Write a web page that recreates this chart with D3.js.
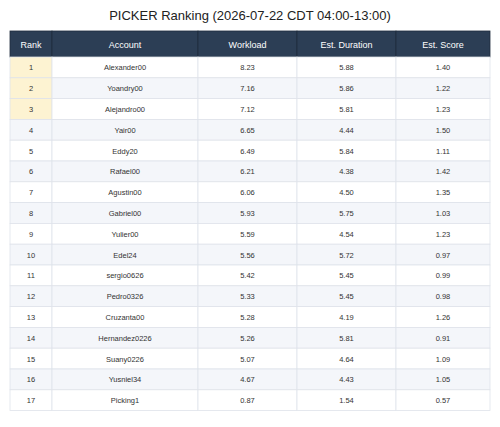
<!DOCTYPE html>
<html><head><meta charset="utf-8">
<script src="https://cdn.jsdelivr.net/npm/d3@7"></script>
<style>body{margin:0;background:#fff;font-family:"Helvetica Neue",Arial,"Liberation Sans",sans-serif;}</style>
</head><body>
<svg width="500" height="427"></svg>
<script>
const columns = ['Rank', 'Account', 'Workload', 'Est. Duration', 'Est. Score'];
const accounts = ['Alexander00','Yoandry00','Alejandro00','Yair00','Eddy20','Rafael00','Agustin00','Gabriel00','Yulier00','Edel24','sergio0626','Pedro0326','Cruzanta00','Hernandez0226','Suany0226','Yusniel34','Picking1'];
const workload = [8.23,7.16,7.12,6.65,6.49,6.21,6.06,5.93,5.59,5.56,5.42,5.33,5.28,5.26,5.07,4.67,0.87];
const duration = [5.88,5.86,5.81,4.44,5.84,4.38,4.50,5.75,4.54,5.72,5.45,5.45,4.19,5.81,4.64,4.43,1.54];
const score = [1.40,1.22,1.23,1.50,1.11,1.42,1.35,1.03,1.23,0.97,0.99,0.98,1.26,0.91,1.09,1.05,0.57];

const rows = accounts.map((a, i) => [String(i + 1), a, workload[i].toFixed(2), duration[i].toFixed(2), score[i].toFixed(2)]);

const svg = d3.select('svg');
const edges = [10, 52, 198, 297, 396, 490];
const tableTop = 31, headH = 26, rowH = 20.8;

svg.append('text').attr('x', 250).attr('y', 20).attr('text-anchor', 'middle')
  .attr('font-size', 13).attr('fill', '#222').text('PICKER Ranking  (2026-07-22 CDT 04:00-13:00)');

// header
columns.forEach((c, j) => {
  svg.append('rect').attr('x', edges[j]).attr('y', tableTop).attr('width', edges[j + 1] - edges[j]).attr('height', headH)
    .attr('fill', '#2c3e55').attr('stroke', '#1e2b3c').attr('stroke-width', 0.8);
  svg.append('text').attr('x', (edges[j] + edges[j + 1]) / 2).attr('y', tableTop + headH / 2 + 3.5)
    .attr('text-anchor', 'middle').attr('font-size', 9).attr('fill', '#fff').text(c);
});

// body
rows.forEach((r, i) => {
  const y = tableTop + headH + i * rowH;
  r.forEach((v, j) => {
    let fill = i % 2 === 1 ? '#f4f6fa' : '#ffffff';
    if (j === 0 && i < 3) fill = '#fdf3d2';
    svg.append('rect').attr('x', edges[j]).attr('y', y).attr('width', edges[j + 1] - edges[j]).attr('height', rowH)
      .attr('fill', fill).attr('stroke', '#dfe3ea').attr('stroke-width', 0.8);
    svg.append('text').attr('x', (edges[j] + edges[j + 1]) / 2).attr('y', y + rowH / 2 + 3)
      .attr('text-anchor', 'middle').attr('font-size', 7.5).attr('fill', '#333').text(v);
  });
});
</script>
</body></html>
